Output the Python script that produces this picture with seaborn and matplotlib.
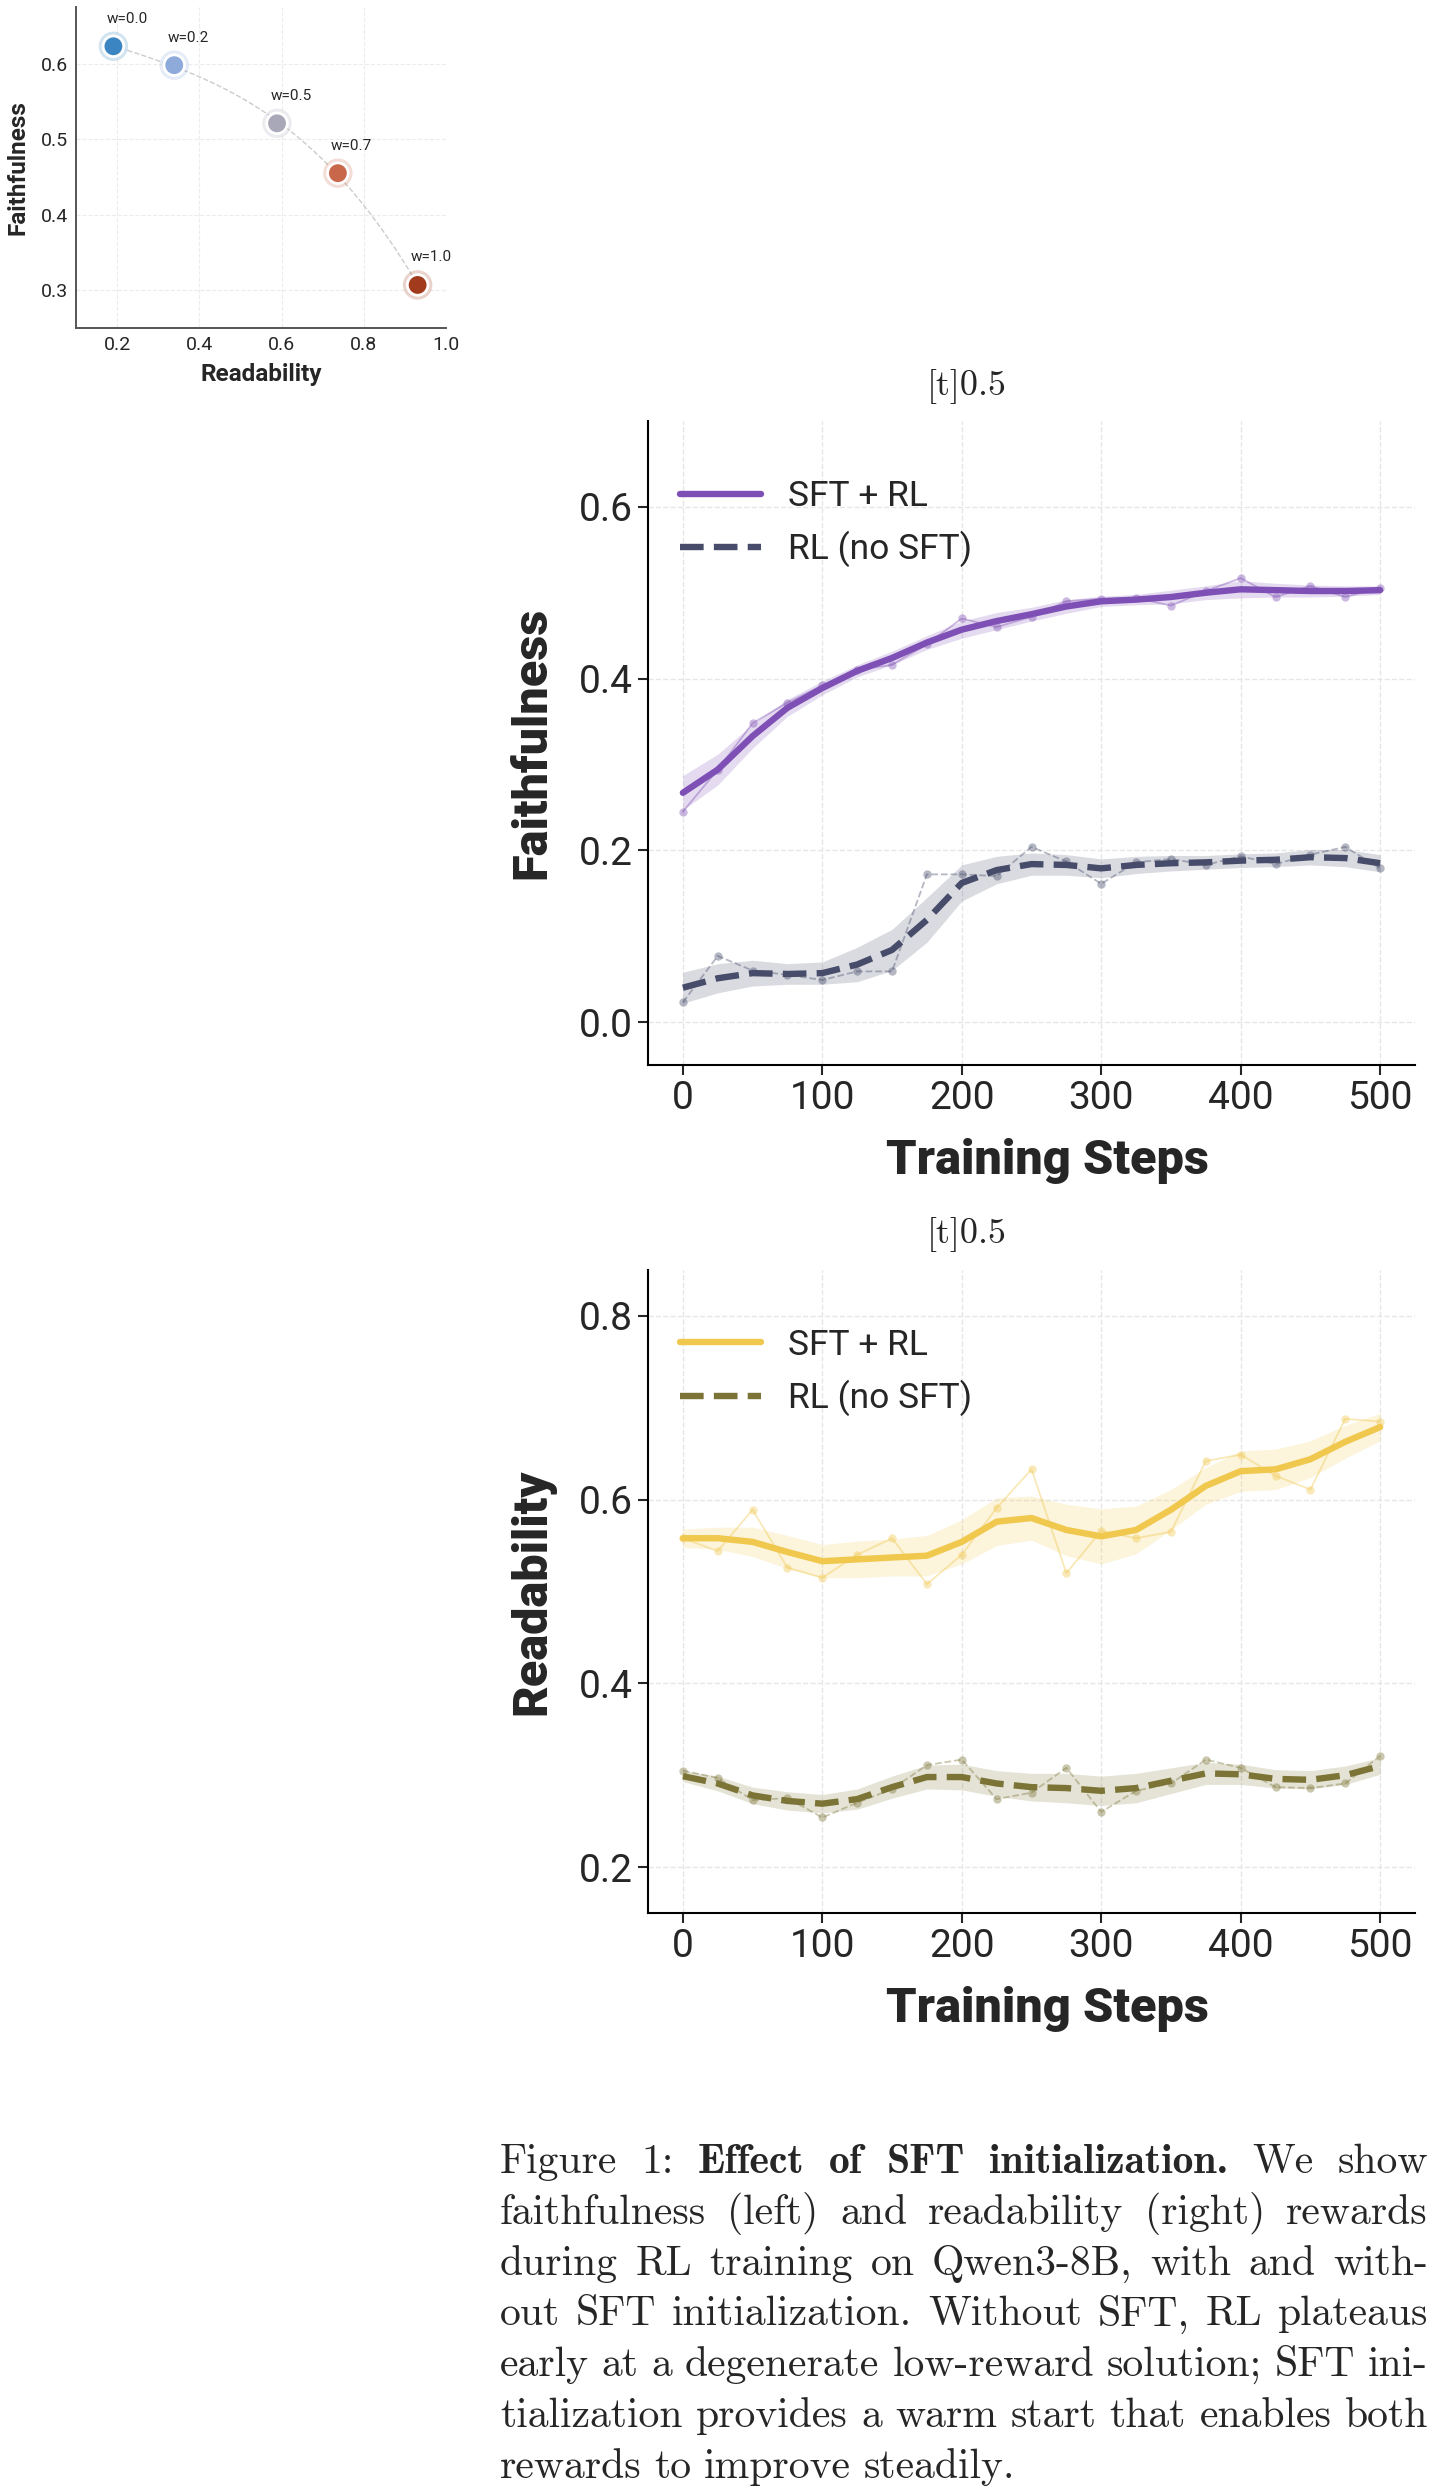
import numpy as np
import matplotlib.pyplot as plt
import seaborn as sns

sns.set_style('white')
plt.rcParams['font.family'] = ['Roboto', 'DejaVu Sans']

# ---- trade-off panel (top left) ----
w_labels = ['w=0.0', 'w=0.2', 'w=0.5', 'w=0.7', 'w=1.0']
readability = [0.191, 0.339, 0.589, 0.737, 0.931]
faithfulness = [0.623, 0.598, 0.521, 0.455, 0.307]
w_colors = ['#3b86c2', '#8eaadb', '#a9a8b9', '#c9674a', '#a23a1e']

# ---- training curves ----
steps = [0, 25, 50, 75, 100, 125, 150, 175, 200, 225, 250,
         275, 300, 325, 350, 375, 400, 425, 450, 475, 500]

faith_sft_raw = [0.245, 0.294, 0.348, 0.372, 0.392, 0.410, 0.416, 0.440, 0.470, 0.460, 0.472,
                 0.490, 0.493, 0.494, 0.485, 0.502, 0.517, 0.495, 0.508, 0.495, 0.506]
faith_sft = [0.267, 0.294, 0.333, 0.366, 0.389, 0.409, 0.424, 0.442, 0.457, 0.467, 0.475,
             0.484, 0.490, 0.492, 0.495, 0.500, 0.504, 0.503, 0.502, 0.502, 0.503]
faith_sft_sd = [0.020, 0.018, 0.014, 0.010, 0.008, 0.007, 0.008, 0.008, 0.010, 0.010, 0.008,
                0.008, 0.006, 0.006, 0.008, 0.008, 0.010, 0.008, 0.007, 0.006, 0.005]

faith_rl_raw = [0.023, 0.077, 0.060, 0.055, 0.049, 0.059, 0.059, 0.172, 0.172, 0.170, 0.204,
                0.187, 0.161, 0.186, 0.190, 0.183, 0.193, 0.184, 0.195, 0.204, 0.179]
faith_rl = [0.040, 0.051, 0.057, 0.056, 0.057, 0.067, 0.084, 0.119, 0.162, 0.177, 0.184,
            0.183, 0.179, 0.183, 0.185, 0.186, 0.188, 0.189, 0.192, 0.191, 0.185]
faith_rl_sd = [0.018, 0.017, 0.015, 0.012, 0.013, 0.020, 0.024, 0.026, 0.021, 0.016, 0.013,
               0.012, 0.011, 0.010, 0.009, 0.008, 0.008, 0.008, 0.009, 0.010, 0.010]

read_sft_raw = [0.558, 0.544, 0.589, 0.526, 0.515, 0.540, 0.558, 0.508, 0.540, 0.591, 0.633,
                0.520, 0.566, 0.558, 0.565, 0.642, 0.649, 0.626, 0.611, 0.688, 0.685]
read_sft = [0.558, 0.558, 0.554, 0.543, 0.533, 0.535, 0.537, 0.539, 0.554, 0.576, 0.580,
            0.567, 0.560, 0.567, 0.589, 0.615, 0.631, 0.633, 0.644, 0.663, 0.679]
read_sft_sd = [0.010, 0.012, 0.016, 0.018, 0.018, 0.020, 0.020, 0.022, 0.024, 0.026, 0.024,
               0.028, 0.030, 0.026, 0.022, 0.020, 0.022, 0.022, 0.020, 0.018, 0.015]

read_rl_raw = [0.305, 0.297, 0.273, 0.275, 0.254, 0.270, 0.285, 0.311, 0.317, 0.274, 0.281,
               0.308, 0.260, 0.283, 0.291, 0.317, 0.308, 0.287, 0.286, 0.291, 0.321]
read_rl = [0.299, 0.291, 0.278, 0.272, 0.269, 0.274, 0.287, 0.298, 0.298, 0.291, 0.287,
           0.286, 0.283, 0.286, 0.294, 0.302, 0.301, 0.296, 0.295, 0.300, 0.310]
read_rl_sd = [0.006, 0.008, 0.009, 0.010, 0.010, 0.011, 0.012, 0.013, 0.014, 0.014, 0.015,
              0.016, 0.016, 0.016, 0.014, 0.012, 0.011, 0.010, 0.010, 0.010, 0.009]

series_names = ['SFT + RL', 'RL (no SFT)']

caption_lines = [
    'Figure 1: Effect of SFT initialization. We show',
    'faithfulness (left) and readability (right) rewards',
    'during RL training on Qwen3-8B, with and with-',
    'out SFT initialization. Without SFT, RL plateaus',
    'early at a degenerate low-reward solution; SFT ini-',
    'tialization provides a warm start that enables both',
    'rewards to improve steadily.',
]
bold_words = ['Effect', 'of', 'SFT', 'initialization.']

W, H = 1430, 2490
fig = plt.figure(figsize=(W / 100, H / 100), dpi=100)


def box(l, t, r, b):
    return [l / W, 1 - b / H, (r - l) / W, (b - t) / H]


# ---------------- scatter ----------------
ax0 = fig.add_axes(box(76, 7, 446, 328))
pal = dict(zip(w_labels, w_colors))
coef = np.polyfit(readability, faithfulness, 3)
xx = np.linspace(readability[0], readability[-1], 200)
ax0.plot(xx, np.polyval(coef, xx), ls='--', color='#cccccc', lw=1, zorder=1)
sns.scatterplot(x=readability, y=faithfulness, hue=w_labels, palette=pal, s=450,
                alpha=0.22, linewidth=0, legend=False, ax=ax0, zorder=2)
sns.scatterplot(x=readability, y=faithfulness, hue=w_labels, palette=pal, s=220,
                edgecolor='white', linewidth=2, legend=False, ax=ax0, zorder=3)
for lab, x, y in zip(w_labels, readability, faithfulness):
    ax0.annotate(lab, (x, y), xytext=(10, 17), textcoords='offset points',
                 ha='center', va='baseline', fontsize=11)
ax0.set_xlim(0.1, 1.0)
ax0.set_ylim(0.25, 0.675)
ax0.set_xticks([0.2, 0.4, 0.6, 0.8, 1.0])
ax0.set_yticks([0.3, 0.4, 0.5, 0.6])
ax0.set_xticklabels(['0.2', '0.4', '0.6', '0.8', '1.0'])
ax0.set_yticklabels(['0.3', '0.4', '0.5', '0.6'])
ax0.tick_params(length=0, labelsize=14, pad=6)
ax0.grid(True, ls='--', color='#ececec', lw=0.8)
ax0.set_axisbelow(True)
for s in ['top', 'right']:
    ax0.spines[s].set_visible(False)
for s in ['left', 'bottom']:
    ax0.spines[s].set_color('#555555')
    ax0.spines[s].set_linewidth(1.4)
ax0.set_xlabel('Readability', fontsize=17.5, fontweight='bold', labelpad=6)
ax0.set_ylabel('Faithfulness', fontsize=17.5, fontweight='bold', labelpad=8)


# ---------------- training curves ----------------
def panel(ax, a_raw, a, a_sd, b_raw, b, b_sd, col_a, col_b, ylab, ylim, yticks):
    handles = []
    for raw, sm, sd, col, ls, name in [(a_raw, a, a_sd, col_a, '-', series_names[0]),
                                       (b_raw, b, b_sd, col_b, '--', series_names[1])]:
        sm = np.array(sm)
        sd = np.array(sd)
        ax.fill_between(steps, sm - sd, sm + sd, color=col, alpha=0.2, lw=0, zorder=1)
        sns.lineplot(x=steps, y=raw, color=col, alpha=0.4, lw=1.3, linestyle=ls,
                     marker='o', markersize=6, markeredgewidth=0, errorbar=None, ax=ax, zorder=2)
        sns.lineplot(x=steps, y=sm, color=col, lw=4.6, linestyle=ls, errorbar=None,
                     ax=ax, zorder=3)
        line = ax.lines[-1]
        line.set_label(name)
        handles.append(line)
    ax.set_xlim(-25, 525)
    ax.set_ylim(*ylim)
    ax.set_xticks([0, 100, 200, 300, 400, 500])
    ax.set_yticks(yticks)
    ax.set_yticklabels([f'{t:.1f}' for t in yticks])
    ax.tick_params(direction='out', length=7, width=1.5, labelsize=28, pad=4,
                   left=True, bottom=True)
    ax.grid(True, ls='--', color='#e6e6e6', lw=1)
    ax.set_axisbelow(True)
    for s in ['top', 'right']:
        ax.spines[s].set_visible(False)
    for s in ['left', 'bottom']:
        ax.spines[s].set_color('black')
        ax.spines[s].set_linewidth(1.5)
    ax.set_xlabel('Training Steps', fontsize=35, fontweight='heavy')
    ax.set_ylabel(ylab, fontsize=35, fontweight='heavy')
    ax.xaxis.set_label_coords(0.521, -0.114)
    ax.yaxis.set_label_coords(-0.121, 0.5)
    ax.legend(handles=handles, loc='upper left', bbox_to_anchor=(0, 0.958), frameon=False,
              fontsize=25.5, handlelength=2.3, handletextpad=0.75, labelspacing=0.5)


ax1 = fig.add_axes(box(648, 421, 1415, 1065))
panel(ax1, faith_sft_raw, faith_sft, faith_sft_sd, faith_rl_raw, faith_rl, faith_rl_sd,
      '#7e4fb5', '#464c69', 'Faithfulness', (-0.05, 0.70), [0.0, 0.2, 0.4, 0.6])

ax2 = fig.add_axes(box(648, 1270, 1415, 1913))
panel(ax2, read_sft_raw, read_sft, read_sft_sd, read_rl_raw, read_rl, read_rl_sd,
      '#f0c84e', '#7b7436', 'Readability', (0.15, 0.85), [0.2, 0.4, 0.6, 0.8])

# stray subfigure placement labels
for yb in [395, 1243]:
    fig.text(967 / W, 1 - yb / H, '[t]0.5', ha='center', va='baseline',
             fontfamily='cmr10', fontsize=26)

# ---------------- caption (justified) ----------------
renderer = fig.canvas.get_renderer()
cap_size = 30
x_left, x_right = 500, 1428
for i, line in enumerate(caption_lines):
    yb = 2173 + 50.8 * i
    objs = []
    for j, word in enumerate(line.split(' ')):
        bold = (i == 0 and 2 <= j <= 5 and word in bold_words)
        objs.append(fig.text(0, 1 - yb / H, word, ha='left', va='baseline',
                             fontfamily='cmb10' if bold else 'cmr10', fontsize=cap_size))
    widths = [o.get_window_extent(renderer).width for o in objs]
    if i == len(caption_lines) - 1:
        gap = 0.3 * cap_size * 100 / 72
    else:
        gap = (x_right - x_left - sum(widths)) / (len(objs) - 1)
    x = x_left
    for o, wd in zip(objs, widths):
        o.set_x(x / W)
        x += wd + gap

fig.savefig('out.png', dpi=100)
